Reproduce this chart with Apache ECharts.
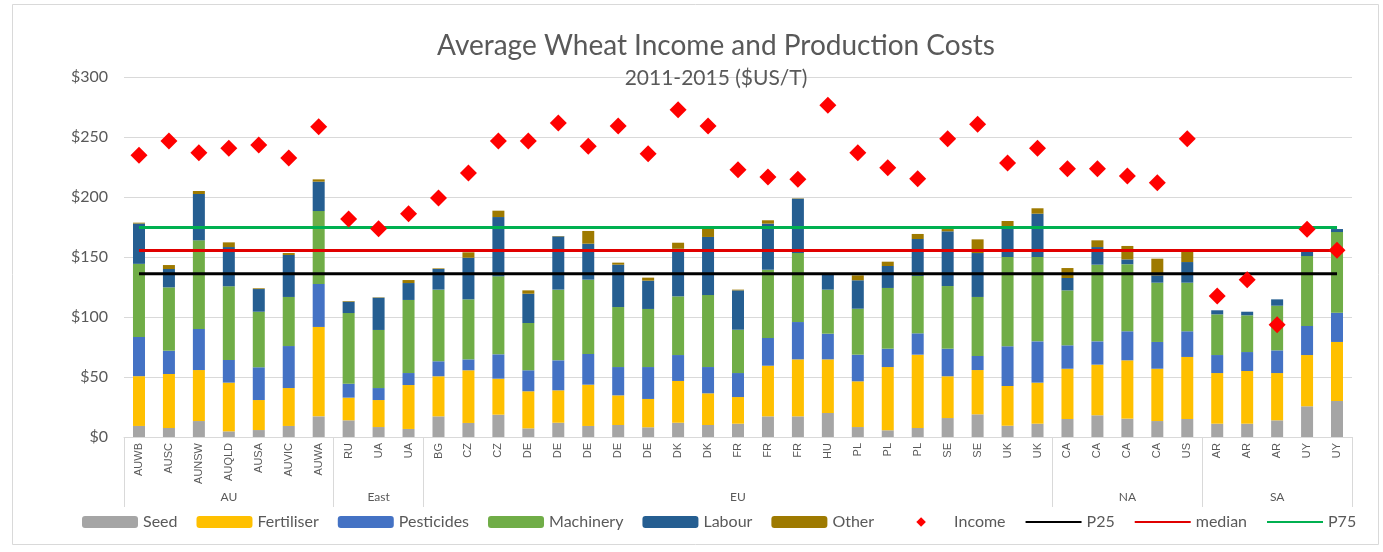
<!DOCTYPE html>
<html>
<head>
<meta charset="utf-8">
<script src="https://cdn.jsdelivr.net/npm/echarts@6/dist/echarts.min.js"></script>
<style>
html,body{margin:0;padding:0;background:#fff;}
#chart{width:1383px;height:552px;}
</style>
</head>
<body>
<div id="chart"></div>
<script>
const categories = ['AUWB','AUSC','AUNSW','AUQLD','AUSA','AUVIC','AUWA','RU','UA','UA','BG','CZ','CZ','DE','DE','DE','DE','DE','DK','DK','FR','FR','FR','HU','PL','PL','PL','SE','SE','UK','UK','CA','CA','CA','CA','US','AR','AR','AR','UY','UY'];
const groupNames = ['AU','East','EU','NA','SA'];
const groupSizes = [7, 3, 21, 5, 5];

const seed = [9.2,7.5,13.3,4.7,5.8,9.2,17.2,13.9,8.3,6.7,17.2,11.7,18.6,7.2,11.9,9.2,10,8.1,11.9,10,11.1,17.2,17.2,20,8.3,5.6,7.5,15.8,18.9,9.4,11.1,15,18.1,15.3,13.3,15,11.1,11.1,13.9,25.6,30];
const fertiliser = [41.5,45,42.5,40.6,25,31.6,74.5,18.9,22.5,36.6,33.4,43.9,30,30.9,27,34.4,24.7,23.6,34.8,26.4,22.2,42.2,47.5,44.7,38.1,52.7,61.1,34.8,36.9,33.1,34.2,41.9,42.2,48.6,43.6,51.7,42.2,43.9,39.4,42.7,49.2];
const pesticides = [32.7,19.4,34.2,18.9,27.3,35,35.8,11.6,10,10,12.5,9.1,20.3,17.5,25,25.6,23.6,26.6,21.6,21.9,20,23.1,31.1,21.4,22.2,15.3,17.8,23,11.7,33.1,34.4,19.5,19.4,24.2,22.3,21.4,15,15.8,18.9,24.2,24.4];
const machinery = [60.9,52.8,73.9,61.4,46.3,40.9,60.8,58.9,48.4,60.9,59.7,50,65,39.4,58.9,61.9,50,48.4,48.9,60,36.1,56.9,57.5,36.7,38.3,50.6,47.8,52.2,49.2,74.4,70.3,45.8,63.9,55.9,49.4,40.5,33.9,30.6,37.2,58.3,67.2];
const labour = [33.6,15.3,38.6,32.7,18.9,35,24.5,9.5,26.9,14.1,17.2,34.7,49.4,24.4,44.4,30,35.3,23.6,39.7,48.4,32.8,38.4,45.3,12.8,23.7,18.3,30.8,45.6,36.6,25.6,36.1,10.3,14.7,4,6.1,17.2,3.4,3.0,5.3,3.4,2.5];
const other = [0.7,3.3,2.5,3.9,0.6,1.6,1.9,0.5,0.3,2.5,0.5,4.5,5.3,2.8,0.3,10.6,1.7,2.5,5,6.9,0.6,2.8,0.3,0.4,4.1,3.6,4.2,1.9,11.4,4.4,4.5,8.3,5.6,11.2,13.9,9.8,0,0,0,0,0];
const income = [234.7,246.7,236.9,240.6,243.3,232.5,258.6,181.7,173.6,186.1,199.2,220,246.7,246.7,261.7,242.2,259.2,236.1,272.8,259.2,222.8,216.7,214.7,276.4,236.9,224.4,215.3,248.6,260.6,228.3,240.6,223.6,223.6,217.5,211.9,248.6,117.5,131.1,93.6,173.1,155.6];
const P25 = 136;
const MEDIAN = 155.5;
const P75 = 174.5;
const yTicks = [0, 50, 100, 150, 200, 250, 300];

// group helpers
const groupOf = [];
const groupStarts = new Set();
const groupCenters = new Set();
let idx = 0;
groupNames.forEach((g, i) => {
  groupStarts.add(idx);
  groupCenters.add(idx + Math.floor(groupSizes[i] / 2));
  for (let k = 0; k < groupSizes[i]; k++) groupOf.push(g);
  idx += groupSizes[i];
});

const TXT = '#595959';
const GRID = '#d9d9d9';
const chart = echarts.init(document.getElementById('chart'), null, {renderer: 'canvas'});

const barSeries = [
  ['Seed', seed, '#a5a5a5'],
  ['Fertiliser', fertiliser, '#ffc000'],
  ['Pesticides', pesticides, '#4472c4'],
  ['Machinery', machinery, '#70ad47'],
  ['Labour', labour, '#255e91'],
  ['Other', other, '#9e7a00']
].map(([name, data, color]) => ({
  name, type: 'bar', stack: 'cost', data, barWidth: 12,
  itemStyle: {color}, z: 2
}));

const lastIdx = categories.length - 1;
const refLine = (name, v, color) => ({
  name, type: 'line', data: [[0, v], [lastIdx, v]],
  symbol: 'none', lineStyle: {color, width: 3}, itemStyle: {color, opacity: 0}, z: 5,
  silent: true
});

chart.setOption({
  animation: false,
  backgroundColor: '#fff',
  textStyle: {fontFamily: 'Lato'},
  graphic: [{
    type: 'rect', shape: {x: 12.5, y: 4.5, width: 1366, height: 540},
    style: {fill: null, stroke: '#d9d9d9', lineWidth: 1}, silent: true, z: -1
  }],
  title: [{
    text: 'Average Wheat Income and Production Costs',
    left: 711, top: 27, textAlign: 'center',
    textStyle: {fontFamily: 'Lato', fontWeight: 'normal', fontSize: 28, color: TXT}
  }, {
    text: '2011-2015 ($US/T)',
    left: 711, top: 63, textAlign: 'center',
    textStyle: {fontFamily: 'Lato', fontWeight: 'normal', fontSize: 21, color: TXT}
  }],
  legend: {
    left: 77, top: 509, itemWidth: 56, itemHeight: 12, itemGap: 19,
    textStyle: {fontFamily: 'Lato', fontSize: 16, color: TXT},
    data: ['Seed','Fertiliser','Pesticides','Machinery','Labour','Other','Income',
      {name: 'P25', itemStyle: {opacity: 0}},
      {name: 'median', itemStyle: {opacity: 0}},
      {name: 'P75', itemStyle: {opacity: 0}}]
  },
  grid: {left: 124, right: 31, top: 77, bottom: 115, containLabel: false},
  xAxis: [{
    type: 'category', data: categories, position: 'bottom',
    axisLine: {lineStyle: {color: GRID}},
    axisTick: {show: false},
    axisLabel: {rotate: 90, interval: 0, margin: 6, fontFamily: 'Liberation Sans', fontSize: 11, color: TXT}
  }, {
    type: 'category', data: groupOf, position: 'bottom',
    axisLine: {show: false},
    axisTick: {show: true, length: 70, interval: (i) => groupStarts.has(i), lineStyle: {color: GRID}},
    axisLabel: {interval: (i) => groupCenters.has(i), margin: 54, fontFamily: 'Lato', fontSize: 12, color: TXT}
  }],
  yAxis: {
    type: 'value', min: yTicks[0], max: yTicks[yTicks.length - 1], interval: 50,
    axisLine: {show: false}, axisTick: {show: false},
    axisLabel: {formatter: v => '$' + v, fontFamily: 'Lato', fontSize: 16, color: TXT, margin: 16},
    splitLine: {lineStyle: {color: GRID, width: 1}}
  },
  series: [
    ...barSeries,
    refLine('P25', P25, '#000000'),
    refLine('median', MEDIAN, '#e00000'),
    refLine('P75', P75, '#00b050'),
    {
      name: 'Income', type: 'line', data: income, symbol: 'diamond', symbolSize: 17,
      showSymbol: true, showAllSymbol: true,
      lineStyle: {width: 0, opacity: 0}, itemStyle: {color: '#ff0000', opacity: 1}, z: 10
    }
  ]
});
</script>
</body>
</html>
